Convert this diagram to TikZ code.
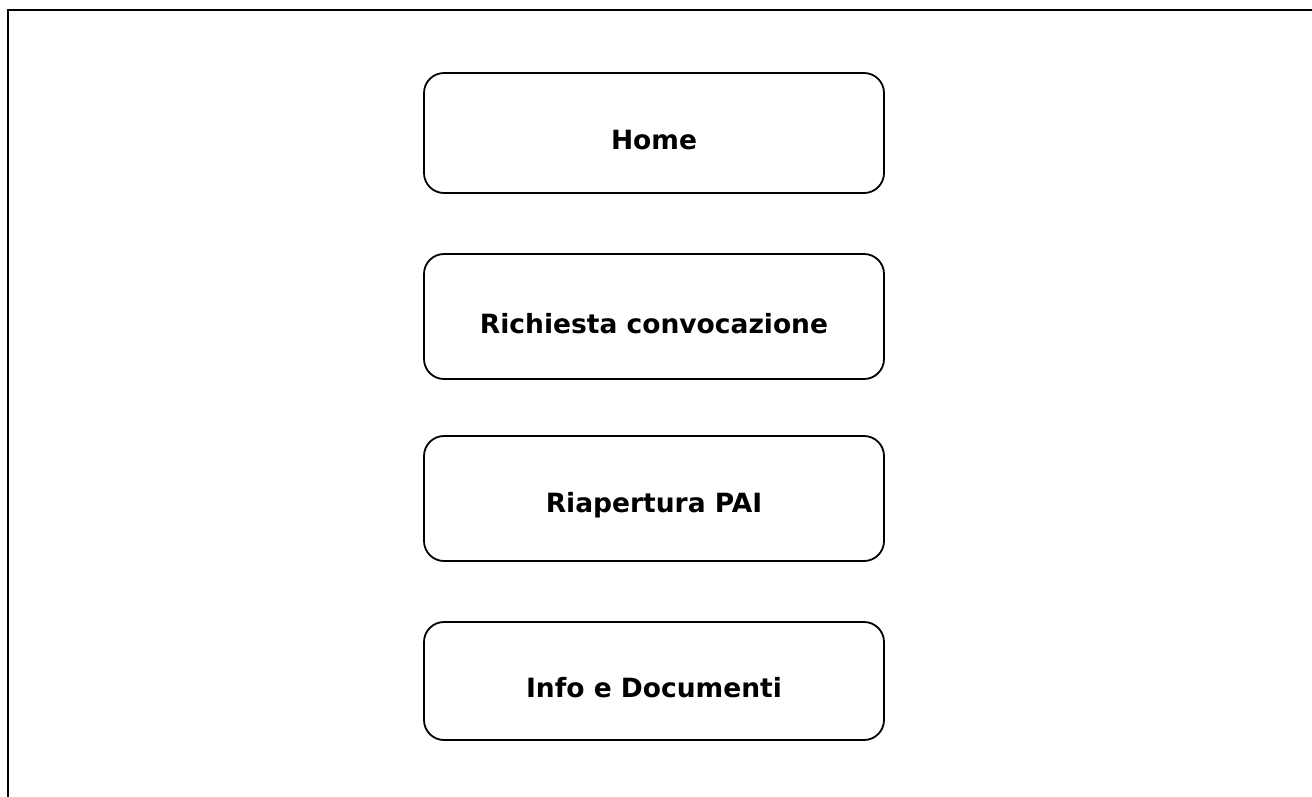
\documentclass[tikz,border=0pt]{standalone}
\usepackage{fontspec}
\setmainfont{DejaVu Sans}
\begin{document}
\begin{tikzpicture}[x=1pt,y=-1pt,
  menubox/.style={draw=black,line width=1.8pt,rounded corners=20pt},
  menulabel/.style={font=\bfseries\fontsize{26.5}{30}\selectfont,anchor=center,inner sep=0pt}]
\useasboundingbox (0,0) rectangle (1312,796);
\draw[line width=2.5pt] (8,800) -- (8,10) -- (1314,10);
\draw[menubox] (424,73) rectangle (884,193);
\node[menulabel] (home) at (654,140) {Home};
\draw[menubox] (424,254) rectangle (884,379);
\node[menulabel] (rich) at (654,324) {Richiesta convocazione};
\draw[menubox] (424,436) rectangle (884,561);
\node[menulabel] (riap) at (654,505) {Riapertura PAI};
\draw[menubox] (424,622) rectangle (884,740);
\node[menulabel] (info) at (654,688) {Info e Documenti};
\end{tikzpicture}
\end{document}
